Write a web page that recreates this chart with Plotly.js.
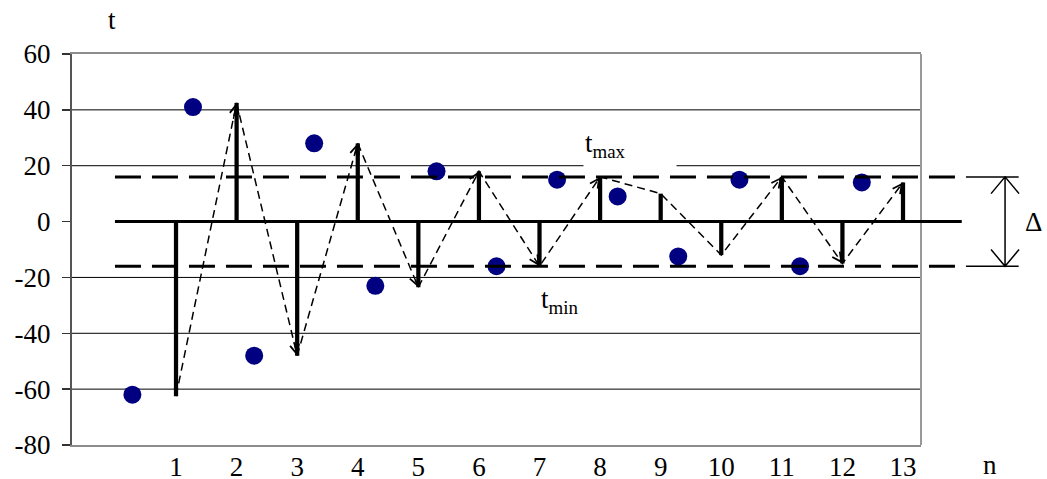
<!DOCTYPE html>
<html>
<head>
<meta charset="utf-8">
<script src="https://cdn.plot.ly/plotly-3.0.1.min.js"></script>
<style>html,body{margin:0;padding:0;background:#fff;}#chart{width:1047px;height:479px;}</style>
</head>
<body>
<div id="chart"></div>
<script>
// ---- data ----
const stepN   = [1, 2, 3, 4, 5, 6, 7, 8, 9, 10, 11, 12, 13];
const stepT   = [-62.5, 42.5, -48, 28, -23.5, 18, -16, 16, 10, -12, 16, -15, 14];
const dotN    = [0.28, 1.28, 2.29, 3.28, 4.29, 5.3, 6.29, 7.29, 8.29, 9.29, 10.3, 11.3, 12.32];
const dotT    = [-62, 41, -48, 28, -23, 18, -16, 15, 9, -12.5, 15, -16, 14];
const yTicks  = [-80, -60, -40, -20, 0, 20, 40, 60];
const xTicks  = [1, 2, 3, 4, 5, 6, 7, 8, 9, 10, 11, 12, 13];
const gridT   = [-60, -40, -20, 20, 40];
const tMax = 16, tMin = -16, tZero = 0;

const FONT = 'Liberation Serif, DejaVu Serif, serif';
const FS = 27;

const traces = [
  {type: 'bar', x: stepN, y: stepT, width: 0.07, marker: {color: '#000', line: {width: 0}},
   hoverinfo: 'skip', showlegend: false},
  {type: 'scatter', mode: 'lines', x: stepN, y: stepT,
   line: {color: '#000', width: 1.5, dash: '8px,5px'}, hoverinfo: 'skip', showlegend: false},
  {type: 'scatter', mode: 'markers', x: dotN, y: dotT,
   marker: {color: '#000080', size: 18}, hoverinfo: 'skip', showlegend: false}
];

const shapes = [];
gridT.forEach(g => shapes.push({type: 'line', layer: 'below', xref: 'paper', yref: 'y',
  x0: 0, x1: 1, y0: g, y1: g, line: {color: '#000', width: 1}}));
shapes.push({type: 'line', xref: 'paper', yref: 'paper', x0: 1, x1: 1, y0: 0, y1: 1,
  line: {color: '#999', width: 2}});
shapes.push({type: 'line', xref: 'paper', yref: 'y', x0: 0.0506, x1: 1.048, y0: tZero, y1: tZero,
  line: {color: '#000', width: 3}});
[tMax, tMin].forEach(v => {
  shapes.push({type: 'line', xref: 'paper', yref: 'y', x0: 0.0506, x1: 1.053, y0: v, y1: v,
    line: {color: '#000', width: 3, dash: '26px,11px'}});
  shapes.push({type: 'line', xref: 'paper', yref: 'y', x0: 1.053, x1: 1.115, y0: v, y1: v,
    line: {color: '#000', width: 1.5}});
});
const ax0 = 1.099, hw = 0.0165, hh = 6.0;
shapes.push({type: 'path', xref: 'paper', yref: 'y',
  path: `M${ax0},${tMax} L${ax0},${tMin} ` +
        `M${ax0 - hw},${tMax - hh} L${ax0},${tMax} L${ax0 + hw},${tMax - hh} ` +
        `M${ax0 - hw},${tMin + hh} L${ax0},${tMin} L${ax0 + hw},${tMin + hh}`,
  line: {color: '#000', width: 1.5}});

const annotations = [];
for (let i = 0; i < stepN.length; i++) {
  let px, py;
  if (i === 0) { px = stepN[0]; py = stepT[0] + 4; }
  else { px = stepN[i - 1]; py = stepT[i - 1]; }
  const f = 0.06;
  annotations.push({x: stepN[i], y: stepT[i], xref: 'x', yref: 'y',
    ax: stepN[i] - f * (stepN[i] - px), ay: stepT[i] - f * (stepT[i] - py),
    axref: 'x', ayref: 'y', text: '', showarrow: true,
    arrowhead: 5, arrowsize: 1.5, arrowwidth: 1.2, arrowcolor: '#000', standoff: 0});
}
const tf = {family: FONT, size: FS, color: '#000'};
const lbl = (o) => Object.assign({showarrow: false, xanchor: 'center', yanchor: 'middle', font: tf}, o);
annotations.push(lbl({x: 8.5, y: 27.5, xref: 'x', yref: 'y', text: 't<sub>max</sub>',
  bgcolor: '#fff', width: 90, height: 46, align: 'left', borderpad: 1}));
annotations.push(lbl({x: 7.33, y: -28.5, xref: 'x', yref: 'y', text: 't<sub>min</sub>'}));
annotations.push(lbl({x: 1.132, y: 0, xref: 'paper', yref: 'y', text: 'Δ'}));
annotations.push(lbl({x: 0.047, y: 1.087, xref: 'paper', yref: 'paper', text: 't'}));
annotations.push(lbl({x: 1.081, y: -0.05, xref: 'paper', yref: 'paper', text: 'n'}));

const layout = {
  width: 1047, height: 479,
  margin: {l: 72, r: 126, t: 54, b: 34, pad: 0},
  paper_bgcolor: '#fff', plot_bgcolor: '#fff',
  showlegend: false,
  font: tf,
  xaxis: {range: [-0.717, 13.297], tickmode: 'array', tickvals: xTicks,
    ticktext: xTicks.map(String), ticks: '', showgrid: false, zeroline: false,
    showline: true, mirror: true, linecolor: '#8c8c8c', linewidth: 2,
    tickfont: tf, ticklabelstandoff: -3, fixedrange: true},
  yaxis: {range: [-80, 60], tickmode: 'array', tickvals: yTicks,
    ticktext: yTicks.map(String), ticks: 'outside', ticklen: 8, tickcolor: '#333', tickwidth: 1.5,
    showgrid: false, zeroline: false, showline: true, linecolor: '#555', linewidth: 2,
    tickfont: tf, ticklabelstandoff: 6, fixedrange: true},
  shapes: shapes,
  annotations: annotations
};

Plotly.newPlot('chart', traces, layout, {staticPlot: true, displayModeBar: false});
</script>
</body>
</html>
